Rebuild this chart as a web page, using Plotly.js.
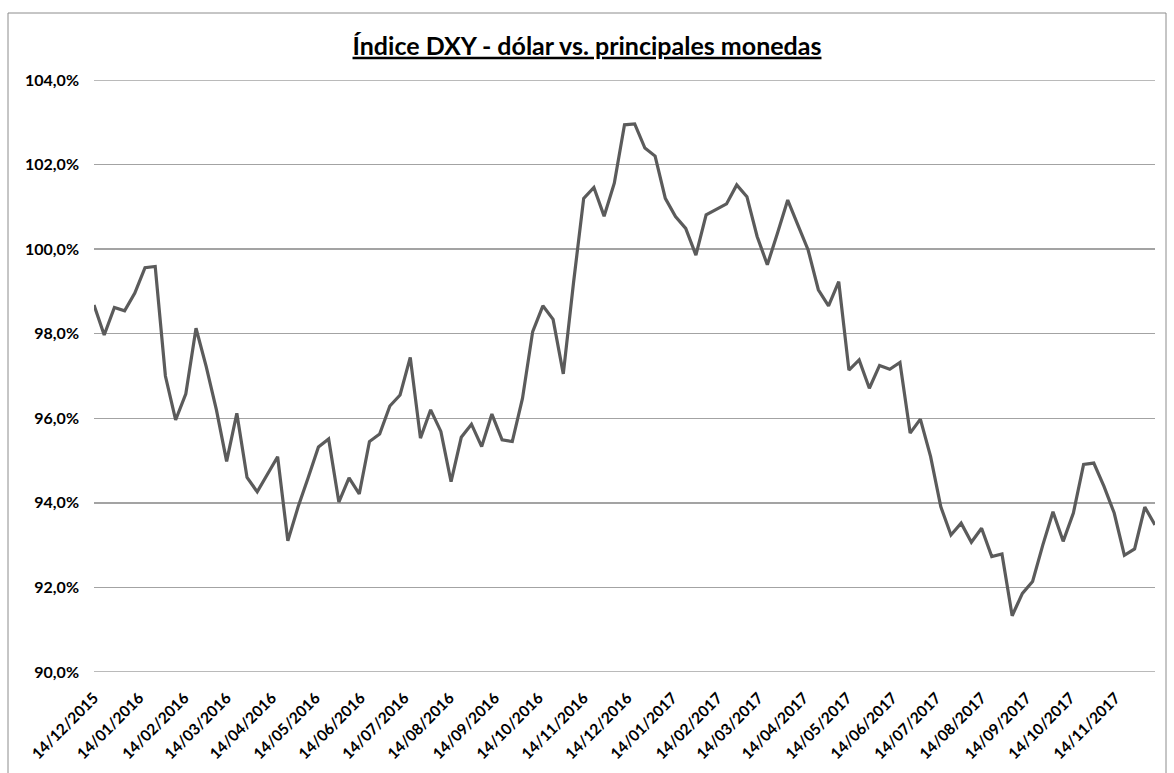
<!DOCTYPE html>
<html>
<head>
<meta charset="utf-8">
<script src="https://cdn.plot.ly/plotly-3.0.1.min.js"></script>
<style>
  html, body { margin: 0; padding: 0; background: #ffffff; }
  #chart { width: 1174px; height: 773px; }
</style>
</head>
<body>
<div id="chart"></div>
<script>
// Weekly dates (Mondays)
const dates = [
  "2015-12-14","2015-12-21","2015-12-28",
  "2016-01-04","2016-01-11","2016-01-18","2016-01-25",
  "2016-02-01","2016-02-08","2016-02-15","2016-02-22","2016-02-29",
  "2016-03-07","2016-03-14","2016-03-21","2016-03-28",
  "2016-04-04","2016-04-11","2016-04-18","2016-04-25",
  "2016-05-02","2016-05-09","2016-05-16","2016-05-23","2016-05-30",
  "2016-06-06","2016-06-13","2016-06-20","2016-06-27",
  "2016-07-04","2016-07-11","2016-07-18","2016-07-25",
  "2016-08-01","2016-08-08","2016-08-15","2016-08-22","2016-08-29",
  "2016-09-05","2016-09-12","2016-09-19","2016-09-26",
  "2016-10-03","2016-10-10","2016-10-17","2016-10-24","2016-10-31",
  "2016-11-07","2016-11-14","2016-11-21","2016-11-28",
  "2016-12-05","2016-12-12","2016-12-19","2016-12-26",
  "2017-01-02","2017-01-09","2017-01-16","2017-01-23","2017-01-30",
  "2017-02-06","2017-02-13","2017-02-20","2017-02-27",
  "2017-03-06","2017-03-13","2017-03-20","2017-03-27",
  "2017-04-03","2017-04-10","2017-04-17","2017-04-24",
  "2017-05-01","2017-05-08","2017-05-15","2017-05-22","2017-05-29",
  "2017-06-05","2017-06-12","2017-06-19","2017-06-26",
  "2017-07-03","2017-07-10","2017-07-17","2017-07-24","2017-07-31",
  "2017-08-07","2017-08-14","2017-08-21","2017-08-28",
  "2017-09-04","2017-09-11","2017-09-18","2017-09-25",
  "2017-10-02","2017-10-09","2017-10-16","2017-10-23","2017-10-30",
  "2017-11-06","2017-11-13","2017-11-20","2017-11-27",
  "2017-12-04","2017-12-11"
];

// DXY index (%)
const dxy = [
  98.68, 97.97, 98.62,
  98.54, 98.96, 99.56, 99.59,
  97.00, 95.96, 96.58, 98.13, 97.22,
  96.20, 94.98, 96.12, 94.60,
  94.26, 94.66, 95.09, 93.10,
  93.90, 94.60, 95.32, 95.51, 94.02,
  94.59, 94.21, 95.45, 95.63,
  96.29, 96.55, 97.44, 95.53,
  96.20, 95.69, 94.50, 95.55, 95.86,
  95.33, 96.10, 95.49, 95.45,
  96.47, 98.05, 98.66, 98.34, 97.05,
  99.20, 101.20, 101.46, 100.78,
  101.56, 102.94, 102.96, 102.39,
  102.20, 101.20, 100.77, 100.49, 99.86,
  100.81, 100.94, 101.07, 101.52,
  101.24, 100.30, 99.63, 100.38,
  101.16, 100.57, 99.98, 99.04,
  98.66, 99.23, 97.14, 97.38, 96.71,
  97.25, 97.16, 97.32, 95.65,
  95.98, 95.10, 93.91, 93.24, 93.52,
  93.07, 93.40, 92.73, 92.79,
  91.33, 91.86, 92.14, 93.00,
  93.79, 93.09, 93.76, 94.91, 94.94,
  94.39, 93.76, 92.76, 92.91,
  93.90, 93.48
];

// Monthly tick positions
const xTicks = [
  "2015-12-14","2016-01-14","2016-02-14","2016-03-14","2016-04-14","2016-05-14",
  "2016-06-14","2016-07-14","2016-08-14","2016-09-14","2016-10-14","2016-11-14",
  "2016-12-14","2017-01-14","2017-02-14","2017-03-14","2017-04-14","2017-05-14",
  "2017-06-14","2017-07-14","2017-08-14","2017-09-14","2017-10-14","2017-11-14"
];
const yTicks = [90, 92, 94, 96, 98, 100, 102, 104];
const yTickLabels = ["90,0%", "92,0%", "94,0%", "96,0%", "98,0%", "100,0%", "102,0%", "104,0%"];

const titleText = "Índice DXY - dólar vs. principales monedas";

const FONT = "Lato, 'Open Sans', 'DejaVu Sans', sans-serif";

const trace = {
  type: "scatter",
  mode: "lines",
  x: dates,
  y: dxy,
  line: { color: "#5b5b5b", width: 3.2 },
  hoverinfo: "x+y"
};

const layout = {
  width: 1174,
  height: 773,
  paper_bgcolor: "#ffffff",
  plot_bgcolor: "#ffffff",
  separators: ",.",
  showlegend: false,
  margin: { l: 94, r: 19, t: 80, b: 101 },
  title: {
    text: '<span style="text-decoration:underline">' + titleText + '</span>',
    font: { family: FONT, size: 25, color: "#000000", weight: 700 },
    x: 0.5, xref: "container", xanchor: "center",
    y: 1 - 46 / 773, yref: "container", yanchor: "middle"
  },
  xaxis: {
    type: "date",
    range: [dates[0], dates[dates.length - 1]],
    tickmode: "array",
    tickvals: xTicks,
    tickformat: "%d/%m/%Y",
    tickangle: -45,
    showgrid: false,
    zeroline: false,
    showline: false,
    ticks: "",
    ticklabelstandoff: 13,
    tickfont: { family: FONT, size: 15.5, color: "#000000", weight: 700 }
  },
  yaxis: {
    range: [90, 104],
    tickmode: "array",
    tickvals: yTicks,
    ticktext: yTickLabels,
    showgrid: true,
    gridcolor: "#a3a3a3",
    gridwidth: 1.3,
    zeroline: false,
    showline: false,
    ticks: "",
    ticklabelstandoff: 14,
    tickfont: { family: FONT, size: 16, color: "#000000", weight: 700 }
  },
  shapes: [
    {
      type: "rect", xref: "paper", yref: "paper",
      x0: (8 - 94) / 1061, x1: (1166 - 94) / 1061,
      y0: (672 - 780) / 592, y1: (672 - 13) / 592,
      line: { color: "#8c8c8c", width: 1 },
      fillcolor: "rgba(0,0,0,0)",
      layer: "below"
    },
    {
      type: "line", xref: "paper", yref: "y",
      x0: 0, x1: 1, y0: 104, y1: 104,
      line: { color: "#a3a3a3", width: 1.3 },
      layer: "below"
    },
    {
      type: "line", xref: "paper", yref: "y",
      x0: 0, x1: 1, y0: 90, y1: 90,
      line: { color: "#a3a3a3", width: 1.3 },
      layer: "below"
    }
  ]
};

Plotly.newPlot("chart", [trace], layout, { displayModeBar: false, staticPlot: true });
</script>
</body>
</html>
